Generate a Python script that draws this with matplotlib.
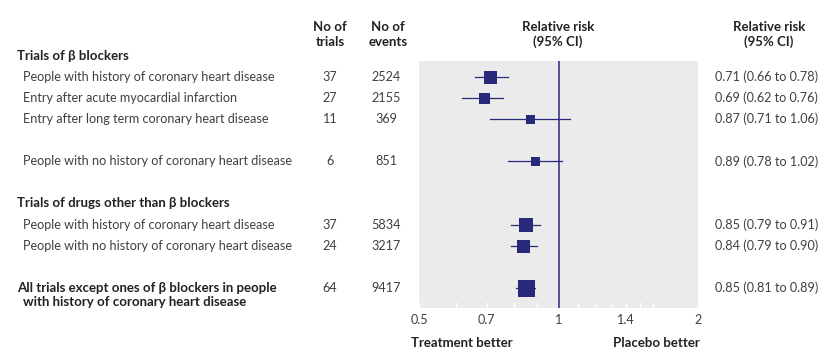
import matplotlib
matplotlib.use("Agg")
import matplotlib.pyplot as plt
import matplotlib.transforms as mtransforms

plt.rcParams['font.family'] = ['Lato', 'DejaVu Sans']

# Rows of the forest plot
labels = ["People with history of coronary heart disease",
          "Entry after acute myocardial infarction",
          "Entry after long term coronary heart disease",
          "People with no history of coronary heart disease",
          "People with history of coronary heart disease",
          "People with no history of coronary heart disease",
          "All trials except ones of \u03b2 blockers in people\nwith history of coronary heart disease"]
n_trials = [37, 27, 11, 6, 37, 24, 64]
n_events = [2524, 2155, 369, 851, 5834, 3217, 9417]
rr = [0.71, 0.69, 0.87, 0.89, 0.85, 0.84, 0.85]
ci_low = [0.66, 0.62, 0.71, 0.78, 0.79, 0.79, 0.81]
ci_high = [0.78, 0.76, 1.06, 1.02, 0.91, 0.90, 0.89]
groups = ["Trials of \u03b2 blockers", "Trials of drugs other than \u03b2 blockers"]
xticks = [0.5, 0.7, 1, 1.4, 2]
xtick_labels = ["0.5", "0.7", "1", "1.4", "2"]

# layout (row slots, 21 px apart)
row_y = [0, 1, 2, 4, 7, 8, 10]
group_y = [-1, 6]
box_px = [13, 11, 9, 9, 14, 13, 17]

navy = '#28297a'
text_col = '#404040'
bold_col = '#222222'
W, H = 833, 357
fig = plt.figure(figsize=(W / 100, H / 100), dpi=100)
ax = fig.add_axes([419 / W, 1 - 308 / H, (698 - 419) / W, (308 - 61) / H])
ax.set_facecolor('#ebebeb')
ax.set_xscale('log')
ax.set_xlim(0.5, 2)
ax.set_ylim(10.96, -0.76)
for s in ax.spines.values():
    s.set_visible(False)

ax.axvline(1, color=navy, lw=1.1, zorder=2)
for i in range(len(rr)):
    y = row_y[i]
    ax.plot([ci_low[i], ci_high[i]], [y, y], color=navy, lw=0.9, zorder=3)
    ax.plot(rr[i], y, marker='s', ms=box_px[i] * 0.72, color=navy, mec=navy,
            mew=0, zorder=4)

fs = 9.1    # regular text
fsb = 9.5   # bold text

ax.set_xticks(xticks)
ax.set_xticklabels(xtick_labels)
ax.set_xticks([0.6, 0.8, 0.9, 1.1, 1.2, 1.3, 1.5, 1.6], minor=True)
ax.xaxis.set_minor_formatter(plt.NullFormatter())
ax.tick_params(axis='x', which='both', direction='in', color='white', length=4,
               width=1, labelsize=fs, labelcolor=text_col, pad=4)
ax.tick_params(axis='y', left=False, labelleft=False)

# text placed with x in figure pixels, y in row slots
tr = mtransforms.blended_transform_factory(
    mtransforms.Affine2D().scale(1.0 / W, 1.0) + fig.transFigure, ax.transData)

for g, y in zip(groups, group_y):
    ax.text(17, y, g, transform=tr, fontsize=fsb, fontweight='bold',
            color=bold_col, va='center', clip_on=False)
for i in range(len(labels)):
    y = row_y[i]
    if "\n" in labels[i]:
        first, second = labels[i].split("\n")
        ax.text(17, y, first, transform=tr, fontsize=fsb, fontweight='bold',
                color=bold_col, va='center', clip_on=False)
        ax.text(23, y + 0.66, second, transform=tr, fontsize=fsb,
                fontweight='bold', color=bold_col, va='center', clip_on=False)
    else:
        ax.text(23, y, labels[i], transform=tr, fontsize=fs, color=text_col,
                va='center', clip_on=False)
    ax.text(330, y, str(n_trials[i]), transform=tr, fontsize=fs, color=text_col,
            va='center', ha='center', clip_on=False)
    ax.text(386, y, str(n_events[i]), transform=tr, fontsize=fs, color=text_col,
            va='center', ha='center', clip_on=False)
    ax.text(715, y, f"{rr[i]:.2f} ({ci_low[i]:.2f} to {ci_high[i]:.2f})",
            transform=tr, fontsize=fs, color=text_col, va='center',
            clip_on=False)

hdr = dict(transform=tr, fontsize=fsb, fontweight='bold', color=bold_col,
           ha='center', va='center', clip_on=False)
for x, top, bottom in [(330, "No of", "trials"), (388, "No of", "events"),
                       (558, "Relative risk", "(95% CI)"),
                       (769, "Relative risk", "(95% CI)")]:
    ax.text(x, -2.37, top, **hdr)
    ax.text(x, -1.66, bottom, **hdr)

ax.text(411, 12.6, "Treatment better", transform=tr, fontsize=fsb,
        fontweight='bold', color=bold_col, va='center', clip_on=False)
ax.text(700, 12.6, "Placebo better", transform=tr, fontsize=fsb,
        fontweight='bold', color=bold_col, va='center', ha='right',
        clip_on=False)

fig.savefig("out.png", dpi=100, facecolor='white')
